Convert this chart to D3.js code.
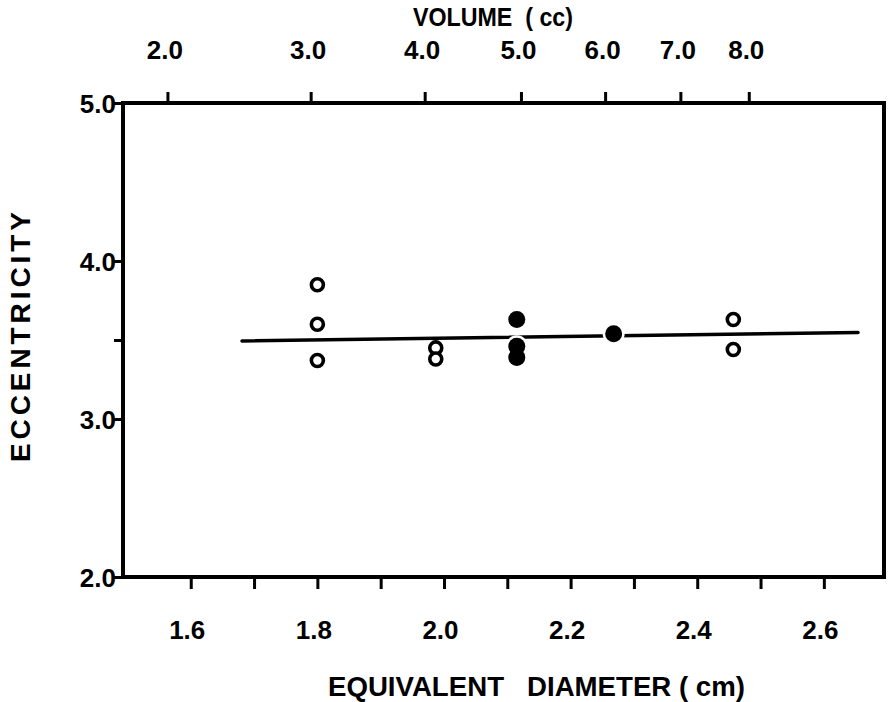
<!DOCTYPE html>
<html>
<head>
  <meta charset="UTF-8">
  <title>Eccentricity vs equivalent diameter</title>
  <style>
    body { margin: 0; background: white; }
    svg text {
      font-family: "Liberation Sans", Arial, sans-serif;
      font-weight: bold;
      fill: black;
    }
    .axis path, .axis line { stroke: black; stroke-width: 3; }
  </style>
</head>
<body>
  <div id="chart"></div>
  <script src="https://d3js.org/d3.v7.min.js"></script>
  <script>
    // open circles
    const openDiam = [1.80, 1.80, 1.80, 1.987, 1.987, 2.457, 2.457];
    const openEcc  = [3.85, 3.60, 3.37, 3.45, 3.38, 3.63, 3.44];
    // filled circles
    const fillDiam = [2.115, 2.115, 2.115, 2.268];
    const fillEcc  = [3.63, 3.46, 3.39, 3.54];
    // fitted line end points
    const fitDiam = [1.681, 2.654];
    const fitEcc  = [3.494, 3.548];

    const diamTicks = [1.6, 1.7, 1.8, 1.9, 2.0, 2.1, 2.2, 2.3, 2.4, 2.5, 2.6];
    const diamLabels = ["1.6", "", "1.8", "", "2.0", "", "2.2", "", "2.4", "", "2.6"];
    const volTicks = [2, 3, 4, 5, 6, 7, 8];
    const volLabels = ["2.0", "3.0", "4.0", "5.0", "6.0", "7.0", "8.0"];
    const eccTicks = [2, 3, 3.5, 4, 5];
    const eccLabels = ["2.0", "3.0", "", "4.0", "5.0"];

    const width = 888, height = 702;
    const mLeft = 123, mRight = 884, mTop = 103, mBottom = 577;

    const svg = d3.select("#chart").append("svg")
      .attr("width", width)
      .attr("height", height);

    const x = d3.scaleLinear().domain([1.493, 2.695]).range([mLeft, mRight]);
    const y = d3.scaleLinear().domain([2, 5]).range([mBottom, mTop]);

    // volume of a sphere -> diameter
    const volToDiam = v => Math.cbrt(6 * v / Math.PI);

    // bottom axis
    const gx = svg.append("g").attr("class", "axis")
      .attr("transform", "translate(0," + mBottom + ")")
      .call(d3.axisBottom(x).tickValues(diamTicks).tickSize(12).tickSizeOuter(0)
        .tickFormat((d, i) => diamLabels[i]));
    gx.select(".domain").remove();
    gx.selectAll("text").attr("font-size", 26).attr("y", 62).attr("dy", 0).attr("dx", -4);

    // top axis (volume)
    const gt = svg.append("g").attr("class", "axis")
      .attr("transform", "translate(0," + mTop + ")")
      .call(d3.axisTop(x).tickValues(volTicks.map(volToDiam)).tickSize(11).tickSizeOuter(0)
        .tickFormat((d, i) => volLabels[i]));
    gt.select(".domain").remove();
    gt.selectAll("text").attr("font-size", 26).attr("y", -44).attr("dy", 0).attr("dx", -3);

    // left axis
    const gy = svg.append("g").attr("class", "axis")
      .attr("transform", "translate(" + mLeft + ",0)")
      .call(d3.axisLeft(y).tickValues(eccTicks).tickSize(9).tickSizeOuter(0)
        .tickFormat((d, i) => eccLabels[i]));
    gy.select(".domain").remove();
    gy.selectAll("text").attr("font-size", 26).attr("x", -7).attr("dy", "0.36em");

    // frame
    svg.append("rect")
      .attr("x", mLeft).attr("y", mTop)
      .attr("width", mRight - mLeft).attr("height", mBottom - mTop)
      .attr("fill", "none").attr("stroke", "black").attr("stroke-width", 4);

    // fitted line
    const line = d3.line().x(d => x(d[0])).y(d => y(d[1]));
    svg.append("path")
      .datum(fitDiam.map((d, i) => [d, fitEcc[i]]))
      .attr("d", line)
      .attr("fill", "none").attr("stroke", "black")
      .attr("stroke-width", 3.5).attr("stroke-linecap", "round");

    // filled points, white halo cuts the line
    const filled = fillDiam.map((d, i) => [d, fillEcc[i]]);
    svg.selectAll(".halo").data(filled).enter().append("circle")
      .attr("cx", d => x(d[0])).attr("cy", d => y(d[1]))
      .attr("r", 11).attr("fill", "white");
    svg.selectAll(".dot").data(filled).enter().append("circle")
      .attr("cx", d => x(d[0])).attr("cy", d => y(d[1]))
      .attr("r", 8.5).attr("fill", "black");

    // open points
    svg.selectAll(".open").data(openDiam.map((d, i) => [d, openEcc[i]])).enter().append("circle")
      .attr("cx", d => x(d[0])).attr("cy", d => y(d[1]))
      .attr("r", 6).attr("fill", "white")
      .attr("stroke", "black").attr("stroke-width", 3.6);

    // titles
    svg.append("text")
      .attr("x", 413).attr("y", 26)
      .attr("font-size", 26)
      .attr("xml:space", "preserve")
      .attr("textLength", 160).attr("lengthAdjust", "spacingAndGlyphs")
      .text("VOLUME  ( cc)");

    svg.append("text")
      .attr("x", 328).attr("y", 696)
      .attr("font-size", 27)
      .attr("xml:space", "preserve")
      .attr("textLength", 417).attr("lengthAdjust", "spacingAndGlyphs")
      .text("EQUIVALENT   DIAMETER ( cm)");

    svg.append("text")
      .attr("transform", "translate(30,462) rotate(-90)")
      .attr("font-size", 28)
      .attr("textLength", 250).attr("lengthAdjust", "spacing")
      .text("ECCENTRICITY");
  </script>
</body>
</html>
